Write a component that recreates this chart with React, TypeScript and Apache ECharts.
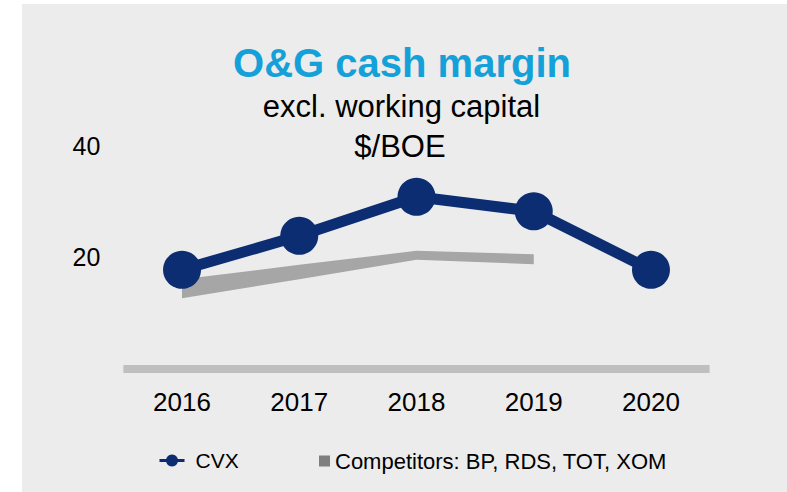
import React, { useEffect, useRef } from "react";
import * as echarts from "echarts";

const years = ["2016", "2017", "2018", "2019", "2020"];
const cvx = [17.7, 23.8, 30.8, 28.2, 17.7];
const compLow = [12.6, 16.0, 19.5, 18.7, null];
const compHigh = [16.0, 18.6, 21.1, 20.5, null];
const yTicks = { min: 0, max: 40, interval: 20 };
const titleText = "O&G cash margin";
const subtitleText = "excl. working capital";
const unitText = "$/BOE";

const FONT = "'Liberation Sans', Arial, sans-serif";
const NAVY = "#0c2d72";
const COMP_NAME = "Competitors: BP, RDS, TOT, XOM";

export default function App() {
  const ref = useRef<HTMLDivElement>(null);
  useEffect(() => {
    if (!ref.current) return;
    const chart = echarts.init(ref.current, undefined, { renderer: "svg" });
    const band = compHigh.map((h, i) =>
      h == null || compLow[i] == null ? null : +(h - (compLow[i] as number)).toFixed(2)
    );
    chart.setOption({
      animation: false,
      backgroundColor: "#ffffff",
      textStyle: { fontFamily: FONT },
      graphic: [
        {
          type: "rect",
          z: -10,
          shape: { x: 22, y: 4, width: 787 - 22, height: 492 - 4 },
          style: { fill: "#ececec" },
          silent: true,
        },
        {
          type: "text",
          x: 402,
          y: 63,
          style: {
            text: titleText,
            fill: "#14a0d8",
            font: `bold 40px ${FONT}`,
            textAlign: "center",
            textVerticalAlign: "middle",
          },
        },
        {
          type: "text",
          x: 401.5,
          y: 106,
          style: {
            text: subtitleText,
            fill: "#000",
            font: `31px ${FONT}`,
            textAlign: "center",
            textVerticalAlign: "middle",
          },
        },
        {
          type: "text",
          x: 400,
          y: 146,
          style: {
            text: unitText,
            fill: "#000",
            font: `31px ${FONT}`,
            textAlign: "center",
            textVerticalAlign: "middle",
          },
        },
      ],
      legend: [
        {
          data: ["CVX"],
          left: 158,
          top: 450,
          padding: 0,
          itemWidth: 25,
          itemHeight: 15,
          lineStyle: { width: 3, color: NAVY },
          textStyle: { fontFamily: FONT, fontSize: 21, color: "#000", padding: [0, 0, 0, 6] },
          selectedMode: false,
        },
        {
          data: [{ name: COMP_NAME, icon: "rect", itemStyle: { color: "#7f7f7f" } }],
          left: 319,
          top: 450,
          padding: 0,
          itemWidth: 11,
          itemHeight: 11,
          textStyle: { fontFamily: FONT, fontSize: 22, color: "#000" },
          selectedMode: false,
        },
      ],
      grid: { left: 123.4, right: 77.4, top: 145.5, bottom: 123.5, containLabel: false },
      xAxis: {
        type: "category",
        data: years,
        boundaryGap: true,
        axisLine: { show: true, lineStyle: { color: "#bfbfbf", width: 8, cap: "butt" } },
        axisTick: { show: false },
        axisLabel: { fontFamily: FONT, fontSize: 26, color: "#000", margin: 20, lineHeight: 26 },
        splitLine: { show: false },
      },
      yAxis: {
        type: "value",
        min: yTicks.min,
        max: yTicks.max,
        interval: yTicks.interval,
        axisLine: { show: false },
        axisTick: { show: false },
        splitLine: { show: false },
        axisLabel: { fontFamily: FONT, fontSize: 25, color: "#000", margin: 23, showMinLabel: false },
      },
      series: [
        {
          name: "compLow",
          type: "line",
          stack: "comp",
          data: compLow,
          symbol: "none",
          lineStyle: { width: 0, opacity: 0 },
          silent: true,
          z: 1,
        },
        {
          name: COMP_NAME,
          type: "line",
          stack: "comp",
          data: band,
          symbol: "none",
          itemStyle: { color: "#7f7f7f" },
          lineStyle: { width: 0, color: "#a6a6a6" },
          areaStyle: { color: "#a6a6a6", opacity: 1 },
          silent: true,
          z: 2,
        },
        {
          name: "CVX",
          type: "line",
          data: cvx,
          symbol: "circle",
          symbolSize: 38,
          itemStyle: { color: NAVY },
          lineStyle: { width: 11, color: NAVY },
          z: 5,
        },
      ],
    });
    return () => chart.dispose();
  }, []);
  return (
    <div
      ref={ref}
      style={{ position: "fixed", left: 0, top: 0, width: 787, height: 492 }}
    />
  );
}
